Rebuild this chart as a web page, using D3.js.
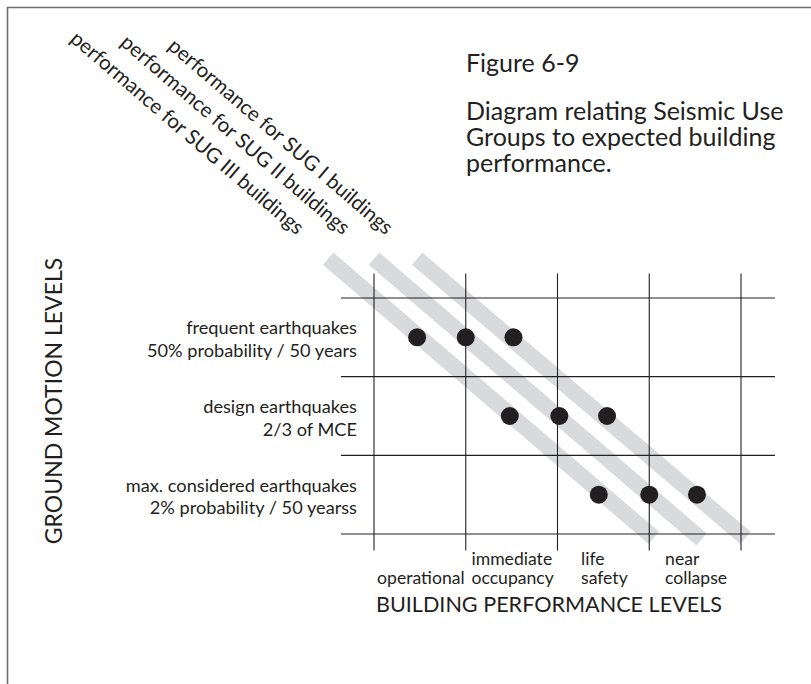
<!DOCTYPE html>
<html lang="en">

<head>
  <meta charset="utf-8">
  <title>Seismic Use Groups vs building performance</title>
  <script type="text/javascript" src="https://d3js.org/d3.v7.min.js"></script>
  <style>
    body { margin: 0; background: #fff; }
    text { font-family: Lato, "Open Sans", sans-serif; fill: #231f20; }
  </style>
</head>

<body>
  <script type="text/javascript">
    // performance levels (columns) and ground motion levels (rows)
    const perfLevels = [["operational"], ["immediate", "occupancy"], ["life", "safety"], ["near", "collapse"]];
    const motionLevels = [
      ["frequent earthquakes", "50% probability / 50 years"],
      ["design earthquakes", "2/3 of MCE"],
      ["max. considered earthquakes", "2% probability / 50 yearss"]
    ];
    const groups = ["SUG I", "SUG II", "SUG III"];
    const groupLabels = ["performance for SUG I buildings", "performance for SUG II buildings", "performance for SUG III buildings"];
    // dot position (performance units) per group, one per row
    const groupDots = [[1.52, 2.54, 3.52], [1.0, 2.02, 3.0], [0.47, 1.48, 2.45]];
    // band start / end as [performance, row]
    const bandStart = [[0.47, -1], [0.0, -1], [-0.5, -1]];
    const bandEnd = [[4.05, 2.55], [3.57, 2.57], [3.05, 2.55]];
    const titleLines = ["Diagram relating Seismic Use", "Groups to expected building", "performance."];

    const width = 811;
    const height = 684;
    const svg = d3.select("body").append("svg").attr("width", width).attr("height", height);

    // frame (only top and left edges visible)
    svg.append("path")
      .attr("d", "M7.5," + height + "V7.5H" + width)
      .attr("fill", "none")
      .attr("stroke", "#6d6e70")
      .attr("stroke-width", 1.6);

    const x = d3.scaleLinear().domain([0, 4]).range([374, 741]);
    const y = d3.scaleLinear().domain([-0.5, 2.5]).range([298, 534]);

    // gray bands
    svg.selectAll("line.band")
      .data(groups)
      .enter()
      .append("line")
      .attr("class", "band")
      .attr("x1", (d, i) => x(bandStart[i][0]))
      .attr("y1", (d, i) => y(bandStart[i][1]))
      .attr("x2", (d, i) => x(bandEnd[i][0]))
      .attr("y2", (d, i) => y(bandEnd[i][1]))
      .attr("stroke", "#d9dadb")
      .attr("stroke-width", 16);

    // grid
    const grid = svg.append("g").attr("stroke", "#231f20").attr("stroke-width", 1.1);
    grid.selectAll("line.v")
      .data(d3.range(0, 5))
      .enter()
      .append("line")
      .attr("x1", d => x(d)).attr("x2", d => x(d))
      .attr("y1", y(-0.81)).attr("y2", y(2.71));
    grid.selectAll("line.h")
      .data(d3.range(-0.5, 3, 1))
      .enter()
      .append("line")
      .attr("y1", d => y(d)).attr("y2", d => y(d))
      .attr("x1", x(-0.36)).attr("x2", x(4.37));

    // dots
    groups.forEach((g, i) => {
      svg.selectAll("circle.g" + i)
        .data(groupDots[i])
        .enter()
        .append("circle")
        .attr("cx", d => x(d))
        .attr("cy", (d, r) => y(r))
        .attr("r", 9)
        .attr("fill", "#231f20");
    });

    // diagonal group labels, running along the bands
    const ang = Math.atan2(y(1) - y(0), x(1) - x(0));
    svg.selectAll("text.glabel")
      .data(groupLabels)
      .enter()
      .append("text")
      .attr("transform", (d, i) => {
        const px = x(bandStart[i][0]) - 39 * Math.cos(ang);
        const py = y(bandStart[i][1]) - 39 * Math.sin(ang);
        return "translate(" + px + "," + py + ") rotate(" + ang * 180 / Math.PI + ")";
      })
      .attr("text-anchor", "end")
      .attr("dy", "0.15em")
      .attr("font-size", 20.5)
      .text(d => d);

    // row labels
    motionLevels.forEach((lines, r) => {
      const t = svg.append("text")
        .attr("text-anchor", "end")
        .attr("font-size", 18.2)
        .attr("x", 357)
        .attr("y", y(r) - 3);
      lines.forEach((s, k) => {
        t.append("tspan").attr("x", 357).attr("dy", k ? 22.7 : 0).text(s);
      });
    });

    // column labels (block centred in column, lines left aligned, bottom aligned)
    perfLevels.forEach((lines, c) => {
      const g = svg.append("g");
      const cx = x(c + 0.5);
      const texts = lines.map((s, k) => g.append("text")
        .attr("font-size", 17.6)
        .attr("y", 584 - (lines.length - 1 - k) * 19)
        .text(s));
      const w = d3.max(texts, t => t.node().getComputedTextLength());
      texts.forEach(t => t.attr("x", cx - w / 2 + 1));
    });

    // axis titles
    svg.append("text")
      .attr("transform", "translate(62,401) rotate(-90)")
      .attr("text-anchor", "middle")
      .attr("font-size", 23)
      .text("GROUND MOTION LEVELS");
    svg.append("text")
      .attr("x", 549).attr("y", 612)
      .attr("text-anchor", "middle")
      .attr("font-size", 21.6)
      .text("BUILDING PERFORMANCE LEVELS");

    // figure title
    svg.append("text")
      .attr("x", 466).attr("y", 72)
      .attr("font-size", 25)
      .text("Figure 6-9");
    svg.selectAll("text.tline")
      .data(titleLines)
      .enter()
      .append("text")
      .attr("x", 466)
      .attr("y", (d, i) => 120 + i * 26)
      .attr("font-size", 25)
      .text(d => d);
  </script>
</body>

</html>
